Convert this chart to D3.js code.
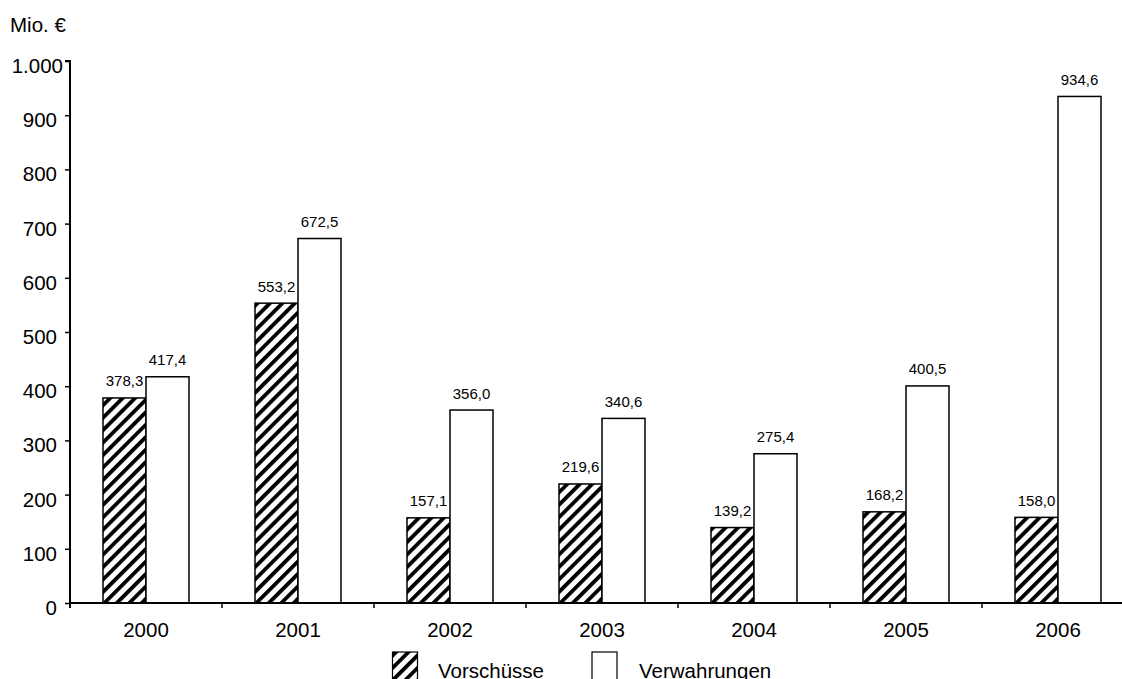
<!DOCTYPE html>
<html>
<head>
<meta charset="utf-8">
<script src="https://cdn.jsdelivr.net/npm/d3@7"></script>
<style>
  html, body { margin: 0; padding: 0; background: #fff; }
  svg { display: block; font-family: "Liberation Sans", Arial, sans-serif; }
</style>
</head>
<body>
<svg id="chart" width="1122" height="679"></svg>
<script>
const years = ["2000", "2001", "2002", "2003", "2004", "2005", "2006"];
const vorschuesse = [378.3, 553.2, 157.1, 219.6, 139.2, 168.2, 158.0];
const verwahrungen = [417.4, 672.5, 356.0, 340.6, 275.4, 400.5, 934.6];
const seriesNames = ["Vorschüsse", "Verwahrungen"];
const yTicks = [0, 100, 200, 300, 400, 500, 600, 700, 800, 900, 1000];

const de = d3.formatLocale({ decimal: ",", thousands: ".", grouping: [3], currency: ["", " €"] });
const fmtValue = de.format(",.1f");
const fmtTick = de.format(",d");

const FONT = "Liberation Sans, Arial, sans-serif";
const bigFont = 20.5, valueFont = 15;

const svg = d3.select("#chart");
const plotLeft = 70, plotBottom = 603, plotTop = 61, bandW = 152;
const plotRight = plotLeft + bandW * years.length;

// Diagonal hatch for the advances series
const defs = svg.append("defs");
const pat = defs.append("pattern")
  .attr("id", "hatch")
  .attr("patternUnits", "userSpaceOnUse")
  .attr("width", 8.8).attr("height", 8.8)
  .attr("patternTransform", "rotate(45)");
pat.append("rect").attr("width", 8.8).attr("height", 8.8).attr("fill", "#fff");
pat.append("rect").attr("x", 0).attr("width", 3.8).attr("height", 8.8).attr("fill", "#000");

const x = d3.scaleBand().domain(years).range([plotLeft, plotRight]).paddingInner(0).paddingOuter(0);
const inner = d3.scaleBand().domain(seriesNames).range([33, bandW - 33]);
const y = d3.scaleLinear().domain([0, 1000]).range([plotBottom, plotTop]);

const rows = years.map((yr, i) => ({ year: yr, values: [vorschuesse[i], verwahrungen[i]] }));

// Bars
const groups = svg.append("g").selectAll("g").data(rows).join("g")
  .attr("transform", d => `translate(${x(d.year)},0)`);

groups.selectAll("rect").data(d => d.values.map((v, k) => ({ v, k })))
  .join("rect")
  .attr("x", d => inner(seriesNames[d.k]))
  .attr("y", d => y(d.v))
  .attr("width", inner.bandwidth())
  .attr("height", d => plotBottom - y(d.v))
  .attr("fill", d => d.k === 0 ? "url(#hatch)" : "#fff")
  .attr("stroke", "#000")
  .attr("stroke-width", 1.5);

groups.selectAll("text").data(d => d.values.map((v, k) => ({ v, k })))
  .join("text")
  .attr("x", d => inner(seriesNames[d.k]) + inner.bandwidth() / 2)
  .attr("y", d => y(d.v) - 11.5)
  .attr("text-anchor", "middle")
  .attr("font-size", valueFont)
  .text(d => fmtValue(d.v));

// Y axis
const yAxis = d3.axisLeft(y).tickValues(yTicks).tickFormat(fmtTick).tickSize(5).tickPadding(8);
const gy = svg.append("g").attr("transform", `translate(${plotLeft},0)`).call(yAxis);
gy.attr("font-family", FONT).attr("font-size", bigFont);
gy.select(".domain").attr("d", `M-5,${plotTop}H0V${plotBottom + 5}`).attr("stroke-width", 2);
gy.selectAll(".tick line").attr("stroke-width", 1.5);
gy.selectAll(".tick text").attr("fill", "#000").attr("dy", "0.56em")
  .attr("dx", d => d >= 1000 ? 6 : 0);

// X axis with ticks at category boundaries
const xAxis = d3.axisBottom(x).tickSize(0).tickPadding(19.5);
const gx = svg.append("g").attr("transform", `translate(0,${plotBottom})`).call(xAxis);
gx.attr("font-family", FONT).attr("font-size", bigFont);
gx.select(".domain").attr("d", `M${plotLeft},0H${plotRight}`).attr("stroke-width", 2);
gx.selectAll(".tick text").attr("fill", "#000");
gx.selectAll("line.sep").data(years.map((d, i) => i).concat([years.length]))
  .join("line").attr("class", "sep")
  .attr("x1", i => plotLeft + i * bandW).attr("x2", i => plotLeft + i * bandW)
  .attr("y1", 0).attr("y2", 5)
  .attr("stroke", "#000").attr("stroke-width", 1.5);

// Unit label
svg.append("text").attr("x", 10).attr("y", 32).attr("font-size", bigFont).text("Mio. €");

// Legend
const legend = svg.append("g");
const legendItems = [
  { name: seriesNames[0], fill: "url(#hatch)", bx: 392.5, tx: 438 },
  { name: seriesNames[1], fill: "#fff", bx: 592, tx: 639 }
];
legend.selectAll("rect").data(legendItems).join("rect")
  .attr("x", d => d.bx).attr("y", 652).attr("width", 25).attr("height", 32)
  .attr("fill", d => d.fill).attr("stroke", "#000").attr("stroke-width", 1.2);
legend.selectAll("text").data(legendItems).join("text")
  .attr("x", d => d.tx).attr("y", 677.5).attr("font-size", bigFont).text(d => d.name);
</script>
</body>
</html>
